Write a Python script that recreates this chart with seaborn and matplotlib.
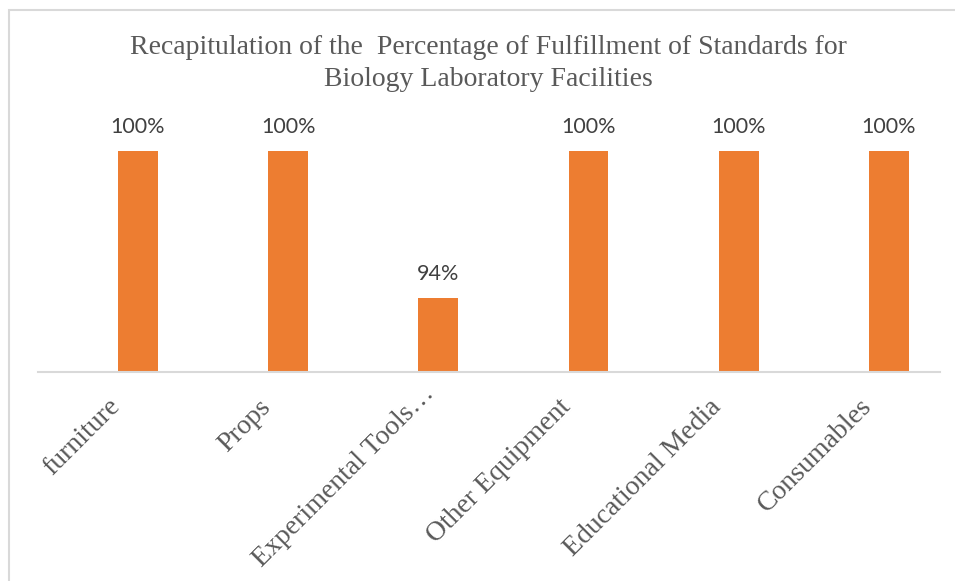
import matplotlib
matplotlib.use("Agg")
import matplotlib.pyplot as plt
import matplotlib.transforms as mtransforms
from matplotlib.patches import Rectangle
import seaborn as sns
import pandas as pd

categories = ["furniture", "Props", "Experimental Tools…", "Other Equipment",
              "Educational Media", "Consumables"]
values = [100, 100, 94, 100, 100, 100]
value_labels = ["100%", "100%", "94%", "100%", "100%", "100%"]
title_text = ("Recapitulation of the  Percentage of Fulfillment of Standards for\n"
              "Biology Laboratory Facilities")

df = pd.DataFrame({"category": categories, "value": values})

sns.set_theme(style="white")
W, H = 955, 581
fig = plt.figure(figsize=(W / 100, H / 100), dpi=100)
fig.patch.set_facecolor("white")

# chart border
fig.patches.append(Rectangle((9 / W, -0.1), 1.2, 1 - 10 / H + 0.1,
                             transform=fig.transFigure, fill=False,
                             edgecolor="#d9d9d9", linewidth=1.5))

ax = fig.add_axes([38 / W, 1 - 372 / H, (940 - 38) / W, (372 - 126.5) / H])
sns.barplot(data=df, x="category", y="value", color="#ED7D31",
            width=0.266, saturation=1, ax=ax, edgecolor="none")
ax.set_ylim(91, 101)
ax.set_xlim(-0.665, 5.34)
ax.set_facecolor("none")
for s in ["top", "right", "left"]:
    ax.spines[s].set_visible(False)
ax.spines["bottom"].set_color("#d9d9d9")
ax.spines["bottom"].set_linewidth(1.5)
ax.set_yticks([])
ax.set_xlabel("")
ax.set_ylabel("")
ax.tick_params(axis="x", length=0, pad=16)

for lbl in ax.get_xticklabels():
    dx, dy = -30, 0
    if lbl.get_text().endswith("…"):
        # the serif ellipsis carries extra trailing space; pull it back
        dx, dy = -17, 13
    offset = mtransforms.ScaledTranslation(dx / 100, dy / 100,
                                           fig.dpi_scale_trans)
    lbl.set_rotation(45)
    lbl.set_ha("right")
    lbl.set_va("top")
    lbl.set_rotation_mode("anchor")
    lbl.set_fontfamily("Liberation Serif")
    lbl.set_fontsize(20)
    lbl.set_color("#595959")
    lbl.set_transform(lbl.get_transform() + offset)

for i, (v, t) in enumerate(zip(values, value_labels)):
    ax.annotate(t, (i, v), xytext=(0, 24), textcoords="offset pixels",
                ha="center", va="center", fontsize=15.5, family="Lato",
                color="#404040")

fig.text(488 / W, 1 - 63.5 / H, title_text, ha="center", va="center",
         fontsize=20, family="Liberation Serif", color="#595959",
         linespacing=1.4)

fig.savefig("out.png", dpi=100)
